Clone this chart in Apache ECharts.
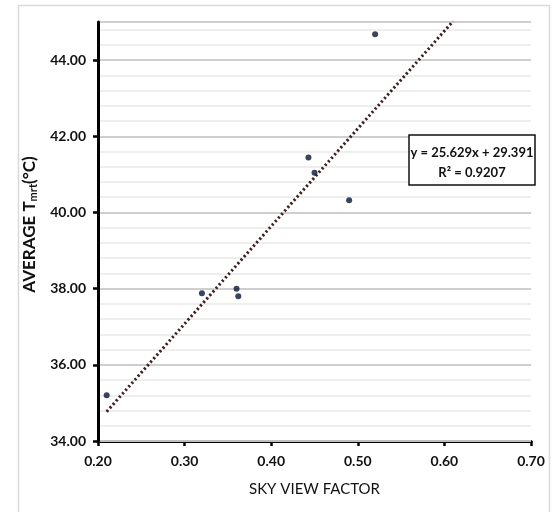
<!DOCTYPE html>
<html>
<head>
<meta charset="utf-8">
<script src="https://cdn.jsdelivr.net/npm/echarts@6/dist/echarts.min.js"></script>
<style>
  html, body { margin: 0; padding: 0; background: #fff; }
  #chart { width: 552px; height: 512px; }
</style>
</head>
<body>
<div id="chart"></div>
<script>
// sky view factor vs average Tmrt
const svf = [0.21, 0.32, 0.36, 0.362, 0.443, 0.45, 0.49, 0.52];
const tmrt = [35.2, 37.88, 38.0, 37.8, 41.44, 41.04, 40.32, 44.68];
// dotted linear trend, endpoints as drawn
const trendX = [0.21, 0.61];
const trendY = [34.77, 45.02];
const equation = ['y = 25.629x + 29.391', 'R\u00b2 = 0.9207'];

const font = 'Lato, "Open Sans", sans-serif';
const chart = echarts.init(document.getElementById('chart'));

const option = {
  backgroundColor: '#fff',
  animation: false,
  grid: { left: 98, right: 21, top: 22, bottom: 71 },
  xAxis: {
    type: 'value',
    min: 0.2,
    max: 0.7,
    interval: 0.1,
    name: 'SKY VIEW FACTOR',
    nameLocation: 'middle',
    nameGap: 41,
    nameTextStyle: { fontFamily: font, fontSize: 15, color: '#111' },
    axisLine: { lineStyle: { color: '#000', width: 3 } },
    axisTick: { show: true, length: 5, lineStyle: { color: '#000', width: 2.5 } },
    axisLabel: {
      margin: 13,
      fontFamily: font, fontSize: 14, fontWeight: 'bold', color: '#111',
      formatter: v => v.toFixed(2)
    },
    splitLine: { show: false }
  },
  yAxis: [
    {
      type: 'value',
      min: 34,
      max: 45,
      interval: 2,
      z: 3,
      name: 'AVERAGE T{sub|mrt}(°C)',
      nameLocation: 'middle',
      nameRotate: 90,
      nameGap: 47,
      nameTextStyle: {
        fontFamily: font, fontSize: 17, fontWeight: 'bold', color: '#111',
        padding: [0, 0, 0, 14],
        rich: {
          sub: { fontFamily: font, fontSize: 11, fontWeight: 'bold', color: '#111', padding: [9, 0, 0, 0] }
        }
      },
      axisLine: { show: true, lineStyle: { color: '#000', width: 3 } },
      axisTick: { show: true, length: 5, lineStyle: { color: '#000', width: 2.5 } },
      axisLabel: {
        margin: 12,
        showMaxLabel: false,
        fontFamily: font, fontSize: 14, fontWeight: 'bold', color: '#111',
        formatter: v => (v <= 44 ? v.toFixed(2) : '')
      },
      splitLine: { show: true, lineStyle: { color: '#c4c4c4', width: 1.5 } }
    },
    {
      // minor gridlines every 0.4
      type: 'value',
      min: 34,
      max: 45,
      interval: 0.4,
      z: 1,
      position: 'left',
      axisLine: { show: false },
      axisTick: { show: false },
      axisLabel: { show: false },
      splitLine: { show: true, lineStyle: { color: '#e8e8e8', width: 1.5 } }
    }
  ],
  series: [
    {
      type: 'line',
      yAxisIndex: 0,
      data: trendX.map((x, i) => [x, trendY[i]]),
      showSymbol: false,
      z: 3,
      lineStyle: { color: '#3e2222', width: 3, type: [2.2, 2.5] }
    },
    {
      type: 'scatter',
      yAxisIndex: 0,
      data: svf.map((x, i) => [x, tmrt[i]]),
      symbol: 'circle',
      symbolSize: 6,
      z: 4,
      itemStyle: { color: '#081634' }
    }
  ],
  graphic: [
    {
      type: 'rect',
      shape: { x: 18.5, y: 5.5, width: 531, height: 520 },
      style: { fill: 'none', stroke: '#d9d9d9', lineWidth: 1.5 },
      z: -10,
      silent: true
    },
    {
      type: 'rect',
      shape: { x: 409, y: 135, width: 126, height: 50 },
      style: { fill: '#fff', stroke: '#111', lineWidth: 1.5 },
      z: 10
    },
    {
      type: 'text',
      x: 472, y: 153,
      z: 11,
      style: {
        text: equation[0], fontFamily: font, fontSize: 13, fontWeight: 'bold',
        fill: '#111', align: 'center', verticalAlign: 'middle'
      }
    },
    {
      type: 'text',
      x: 472, y: 173,
      z: 11,
      style: {
        text: equation[1], fontFamily: font, fontSize: 13, fontWeight: 'bold',
        fill: '#111', align: 'center', verticalAlign: 'middle'
      }
    }
  ]
};

chart.setOption(option);
</script>
</body>
</html>
